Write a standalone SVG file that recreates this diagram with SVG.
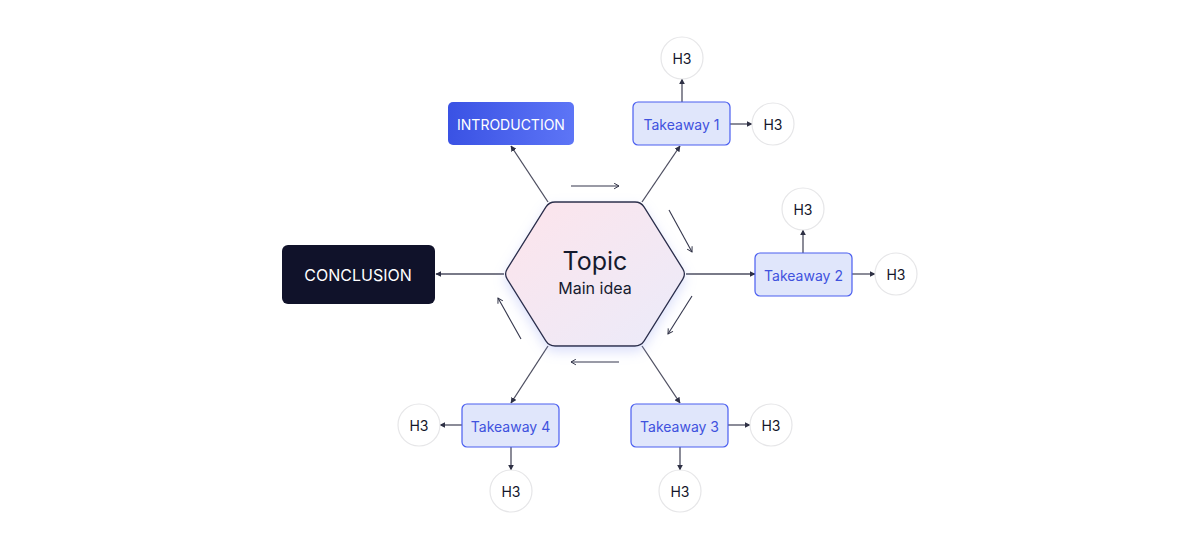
<svg xmlns="http://www.w3.org/2000/svg" width="1200" height="550" viewBox="0 0 1200 550">
<defs>
<linearGradient id="hexFill" x1="0" y1="0" x2="1" y2="1">
<stop offset="0" stop-color="#fde4eb"/>
<stop offset="1" stop-color="#ebebfa"/>
</linearGradient>
<linearGradient id="introFill" x1="0" y1="0" x2="1" y2="0">
<stop offset="0" stop-color="#3a52e4"/>
<stop offset="1" stop-color="#5d75f6"/>
</linearGradient>
<filter id="shadow" x="-30%" y="-30%" width="160%" height="170%">
<feDropShadow dx="0" dy="5" stdDeviation="6" flood-color="#9aa6f2" flood-opacity="0.35"/>
</filter>
<marker id="ah" viewBox="0 0 10 10" refX="9" refY="5" markerWidth="6" markerHeight="6" orient="auto" markerUnits="userSpaceOnUse">
<path d="M0,0 L10,5 L0,10 Z" fill="#2e3044"/>
</marker>
<marker id="chev" viewBox="0 0 10 10" refX="9" refY="5" markerWidth="7" markerHeight="7" orient="auto" markerUnits="userSpaceOnUse">
<path d="M2,1 L9,5 L2,9" fill="none" stroke="#2e3044" stroke-width="1.4"/>
</marker>
<style>
.conn{stroke:#4d4e60;stroke-width:1.3;fill:none}
.flow{stroke:#34364c;stroke-width:1.1;fill:none}
.tk rect{fill:#e0e6fb;stroke:#4a5ef0;stroke-width:1.2}
.tk text{fill:#3f52de;font-family:Inter,"Liberation Sans",sans-serif;font-size:14px;text-anchor:middle;dominant-baseline:central}
.h3 circle{fill:#ffffff;stroke:#e6e6e8;stroke-width:1.2}
.h3 text{fill:#14172b;font-family:Inter,"Liberation Sans",sans-serif;font-size:14px;text-anchor:middle;dominant-baseline:central}
</style>
</defs>
<rect width="1200" height="550" fill="#ffffff"/>

<g id="connectors">
<line class="conn" x1="548" y1="202" x2="511" y2="146" marker-end="url(#ah)"/>
<line class="conn" x1="642" y1="202" x2="680" y2="146" marker-end="url(#ah)"/>
<line class="conn" x1="686" y1="274" x2="755" y2="274" marker-end="url(#ah)"/>
<line class="conn" x1="642" y1="346" x2="680" y2="403" marker-end="url(#ah)"/>
<line class="conn" x1="548" y1="346" x2="511" y2="403" marker-end="url(#ah)"/>
<line class="conn" x1="504" y1="274" x2="436" y2="274" marker-end="url(#ah)"/>
<line class="conn" x1="682" y1="102" x2="682" y2="79" marker-end="url(#ah)"/>
<line class="conn" x1="730" y1="124" x2="752" y2="124" marker-end="url(#ah)"/>
<line class="conn" x1="803" y1="253" x2="803" y2="230" marker-end="url(#ah)"/>
<line class="conn" x1="852" y1="274" x2="875" y2="274" marker-end="url(#ah)"/>
<line class="conn" x1="728" y1="425" x2="750" y2="425" marker-end="url(#ah)"/>
<line class="conn" x1="680" y1="447" x2="680" y2="470" marker-end="url(#ah)"/>
<line class="conn" x1="462" y1="425" x2="440" y2="425" marker-end="url(#ah)"/>
<line class="conn" x1="511" y1="447" x2="511" y2="470" marker-end="url(#ah)"/>
<line class="flow" x1="571" y1="186" x2="619" y2="186" marker-end="url(#chev)"/>
<line class="flow" x1="669" y1="210" x2="692" y2="252" marker-end="url(#chev)"/>
<line class="flow" x1="692" y1="296" x2="668" y2="334" marker-end="url(#chev)"/>
<line class="flow" x1="619" y1="362" x2="571" y2="362" marker-end="url(#chev)"/>
<line class="flow" x1="521" y1="339" x2="498" y2="298" marker-end="url(#chev)"/>
</g>

<g id="topic">
<path d="M555,202 L635,202 Q641,202 644.2,207.1 L682.8,268.9 Q686,274 682.8,279.1 L644.2,340.9 Q641,346 635,346 L555,346 Q549,346 545.8,340.9 L507.2,279.1 Q504,274 507.2,268.9 L545.8,207.1 Q549,202 555,202 Z" fill="url(#hexFill)" stroke="#2b2e4a" stroke-width="1.3" filter="url(#shadow)"/>
<text x="595" y="261" fill="#151a2e" font-family="Inter,'Liberation Sans',sans-serif" font-size="25" text-anchor="middle" dominant-baseline="central">Topic</text>
<text x="595" y="288" fill="#151a2e" font-family="Inter,'Liberation Sans',sans-serif" font-size="16" text-anchor="middle" dominant-baseline="central">Main idea</text>
</g>

<g id="introduction">
<rect x="448" y="102" width="126" height="43" rx="5" fill="url(#introFill)"/>
<text x="511" y="124" fill="#ffffff" font-family="Inter,'Liberation Sans',sans-serif" font-size="14" text-anchor="middle" dominant-baseline="central">INTRODUCTION</text>
</g>

<g id="conclusion">
<rect x="282" y="245" width="153" height="59" rx="6" fill="#10122a"/>
<text x="358" y="275" fill="#ffffff" font-family="Inter,'Liberation Sans',sans-serif" font-size="16" text-anchor="middle" dominant-baseline="central">CONCLUSION</text>
</g>

<g id="takeaway1" class="tk"><rect x="633" y="102" width="97" height="43" rx="5"/><text x="681.5" y="124">Takeaway 1</text></g>
<g id="takeaway2" class="tk"><rect x="755" y="253" width="97" height="43" rx="5"/><text x="803.5" y="275">Takeaway 2</text></g>
<g id="takeaway3" class="tk"><rect x="631" y="404" width="97" height="43" rx="5"/><text x="679.5" y="426">Takeaway 3</text></g>
<g id="takeaway4" class="tk"><rect x="462" y="404" width="97" height="43" rx="5"/><text x="510.5" y="426">Takeaway 4</text></g>

<g id="h3-1a" class="h3"><circle cx="682" cy="58" r="21"/><text x="682" y="58">H3</text></g>
<g id="h3-1b" class="h3"><circle cx="773" cy="124" r="21"/><text x="773" y="124">H3</text></g>
<g id="h3-2a" class="h3"><circle cx="803" cy="209" r="21"/><text x="803" y="209">H3</text></g>
<g id="h3-2b" class="h3"><circle cx="896" cy="274" r="21"/><text x="896" y="274">H3</text></g>
<g id="h3-3a" class="h3"><circle cx="771" cy="425" r="21"/><text x="771" y="425">H3</text></g>
<g id="h3-3b" class="h3"><circle cx="680" cy="491" r="21"/><text x="680" y="491">H3</text></g>
<g id="h3-4a" class="h3"><circle cx="419" cy="425" r="21"/><text x="419" y="425">H3</text></g>
<g id="h3-4b" class="h3"><circle cx="511" cy="491" r="21"/><text x="511" y="491">H3</text></g>
</svg>
